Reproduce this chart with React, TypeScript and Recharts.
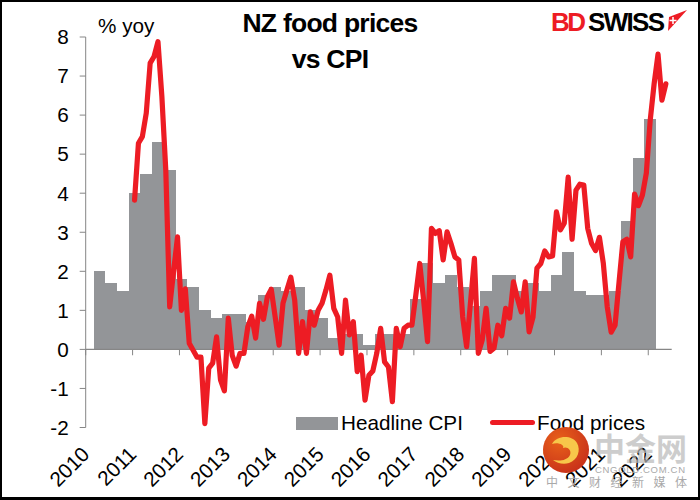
import React from "react";
import {
  ComposedChart,
  Bar,
  Line,
  XAxis,
  YAxis,
  Legend,
  ReferenceLine,
} from "recharts";

const RED = "#ED1C24";
const GREY = "#939598";
const AXIS = "#868686";
const FONT = '"Liberation Sans", Arial, sans-serif';

// 2010 to 2022 on a monthly axis, the last tick is Jan 2022
const years = ["2010", "2011", "2012", "2013", "2014", "2015", "2016", "2017", "2018", "2019", "2020", "2021", "2022"];
const yTicks = [-2, -1, 0, 1, 2, 3, 4, 5, 6, 7, 8];
const monthCount = 150;

// quarterly, starts in Mar 2010 and each value is held for three months
const cpiStart = 2;
const headlineCpi = [
  2.0, 1.7, 1.5, 4.0, 4.5, 5.3, 4.6, 1.8, 1.6, 1.0, 0.8, 0.9,
  0.9, 0.7, 1.4, 1.6, 1.5, 1.6, 1.0, 0.8, 0.3, 0.4, 0.4, 0.1,
  0.4, 0.4, 0.4, 1.3, 2.2, 1.7, 1.9, 1.6, 1.1, 1.5, 1.9, 1.9,
  1.5, 1.7, 1.5, 1.9, 2.5, 1.5, 1.4, 1.4, 1.5, 3.3, 4.9, 5.9,
];

// monthly, starts in Jan 2011
const foodStart = 12;
const foodPrices = [
  3.82, 5.28, 5.45, 6.05, 7.33, 7.5, 7.88, 6.47, 4.59, 1.09, 2.0, 2.88,
  1.0, 1.55, 0.16, -0.02, -0.2, -0.2, -1.9, -0.48, -0.35, 0.32, -0.78, -1.06,
  0.8, -0.15, -0.43, -0.1, -0.1, 0.58, 0.85, 0.29, 1.18, 0.77, 1.35, 1.54,
  0.83, 0.11, 1.18, 1.52, 1.85, 1.26, -0.1, 0.71, -0.1, 0.96, 0.62, 1.0,
  1.18, 1.52, 1.9, 1.05, 0.83, -0.1, 1.26, 0.37, 0.71, -0.57, -0.15, -1.3,
  -0.66, -0.55, -0.1, 0.54, -0.32, -0.45, -1.34, 0.54, 0.07, 0.54, 0.62, 0.62,
  1.39, 2.2, 1.26, 0.2, 3.1, 2.97, 3.04, 2.29, 3.01, 2.71, 2.37, 2.29,
  0.83, 0.07, 1.2, 2.33, -0.1, 0.24, 1.05, -0.05, 0.03, 0.62, 0.35, 1.05,
  0.8, 1.73, 1.31, 0.96, 1.73, 0.45, 0.83, 2.08, 2.2, 2.52, 2.37, 2.39,
  3.52, 3.06, 3.23, 4.41, 2.82, 4.08, 4.23, 4.21, 3.1, 2.71, 2.53, 2.87,
  2.2, 1.09, 0.44, 0.62, 1.7, 2.76, 2.82, 2.37, 3.98, 3.68, 3.95, 4.51,
  5.87, 6.8, 7.56, 6.38, 6.8,
];

const rows = Array.from({ length: monthCount }, (_, i) => {
  const q = Math.floor((i - cpiStart) / 3);
  return {
    month: i,
    cpi: i >= cpiStart && q < headlineCpi.length ? headlineCpi[q] : null,
    food: i >= foodStart && i - foodStart < foodPrices.length ? foodPrices[i - foodStart] : null,
  };
});

const yearTick = (props: any) => {
  const { x, y, payload } = props;
  return (
    <g transform={`translate(${x + 5},${y + 20})`}>
      <text transform="rotate(-45)" textAnchor="end" fontFamily={FONT} fontSize={20.7} fill="#000">
        {years[payload.value / 12]}
      </text>
    </g>
  );
};

const legendContent = () => (
  <div style={{ position: "relative", width: 400, height: 24, fontFamily: FONT, fontSize: 20.7, color: "#000" }}>
    <span style={{ position: "absolute", left: 0, top: 6, width: 42, height: 13, background: GREY }} />
    <span style={{ position: "absolute", left: 45, top: 0 }}>Headline CPI</span>
    <span style={{ position: "absolute", left: 194, top: 9, width: 45, height: 5, borderRadius: 3, background: RED }} />
    <span style={{ position: "absolute", left: 241, top: 0 }}>Food prices</span>
  </div>
);

export default function App() {
  return (
    <div style={{ position: "absolute", left: 0, top: 0, width: 700, height: 500, background: "#fff", overflow: "hidden" }}>
      <ComposedChart
        width={700}
        height={500}
        data={rows}
        barCategoryGap={0}
        barGap={0}
        margin={{ top: 37, right: 28.3, bottom: 12.5, left: 0 }}
      >
        <XAxis xAxisId="months" dataKey="month" height={0} hide />
        <XAxis
          xAxisId="years"
          type="number"
          dataKey="month"
          domain={[0, monthCount]}
          ticks={years.map((_, i) => i * 12)}
          interval={0}
          height={36}
          axisLine={false}
          tickLine={false}
          tick={yearTick}
        />
        <YAxis
          width={85.7}
          domain={[-2, 8]}
          ticks={yTicks}
          interval={0}
          stroke={AXIS}
          tickSize={6}
          tick={{ fill: "#000", fontSize: 20.7, fontFamily: FONT }}
          tickMargin={11}
        />
        <Bar
          xAxisId="months"
          dataKey="cpi"
          name="Headline CPI"
          fill={GREY}
          shapeRendering="crispEdges"
          isAnimationActive={false}
        />
        <ReferenceLine xAxisId="years" y={0} stroke={AXIS} strokeWidth={1.2} />
        {years.map((_, i) => (
          <ReferenceLine
            key={i}
            xAxisId="years"
            stroke={AXIS}
            segment={[
              { x: i * 12, y: 0 },
              { x: i * 12, y: -0.15 },
            ]}
          />
        ))}
        <Line
          xAxisId="months"
          dataKey="food"
          name="Food prices"
          stroke={RED}
          strokeWidth={5.2}
          strokeLinejoin="round"
          strokeLinecap="round"
          dot={false}
          isAnimationActive={false}
        />
        <Legend
          content={legendContent}
          wrapperStyle={{ position: "absolute", left: 296, top: 411, width: 400, bottom: "auto" }}
        />
      </ComposedChart>

      <div style={{ position: "absolute", left: 98, top: 14, fontFamily: FONT, fontSize: 20.7, color: "#000" }}>% yoy</div>
      <div
        style={{
          position: "absolute",
          left: 180,
          top: 5,
          width: 300,
          textAlign: "center",
          fontFamily: FONT,
          fontSize: 26.5,
          letterSpacing: -0.75,
          lineHeight: "36px",
          fontWeight: 700,
          color: "#000",
        }}
      >
        NZ food prices
        <br />
        vs CPI
      </div>

      <svg style={{ position: "absolute", left: 0, top: 0 }} width={700} height={500}>
        <text x={551} y={31} fontFamily={FONT} fontWeight={700} fontSize={26} fill={RED} textLength={35}>BD</text>
        <text x={588} y={31} fontFamily={FONT} fontWeight={700} fontSize={26} fill="#000" textLength={77}>SWISS</text>
        <polygon points="668,31 669,17 687,10" fill={RED} />
        <path d="M673 17v7M669.5 20.5h7" stroke="#fff" strokeWidth={1.5} />
      </svg>

      {/* stamp over the chart */}
      <svg style={{ position: "absolute", left: 0, top: 0 }} width={700} height={500}>
        <defs>
          <radialGradient id="stamp" cx="35%" cy="30%" r="80%">
            <stop offset="0%" stopColor="#E8611A" />
            <stop offset="100%" stopColor="#C62E1A" />
          </radialGradient>
        </defs>
        <circle cx={566} cy={450} r={23} fill="url(#stamp)" />
        <path d="M552 444c5-9 20-9 25-1 4 7 1 17-8 20-6 2-12 0-16-3 6 1 14 1 17-5 2-5-3-9-7-7 2-3-5-6-11-4z" fill="#F7C74A" />
        <text x={594} y={460} fontFamily='"Noto Sans CJK SC"' fontWeight={700} fontSize={31} fill="#B9B9B9" opacity={0.7}>中金网</text>
        <text x={595} y={473} fontFamily={FONT} fontSize={9.5} fill="#A9A9A9" textLength={90}>CNGOLD.COM.CN</text>
        <text x={546} y={487} fontFamily='"Noto Sans CJK SC"' fontSize={12} fill="#A9A9A9" letterSpacing={9.5}>中文财经新媒体</text>
      </svg>

      <div
        style={{
          position: "absolute",
          inset: 0,
          boxSizing: "border-box",
          borderStyle: "solid",
          borderColor: "#000",
          borderWidth: "2px 2px 3px 2px",
          pointerEvents: "none",
        }}
      />
    </div>
  );
}
